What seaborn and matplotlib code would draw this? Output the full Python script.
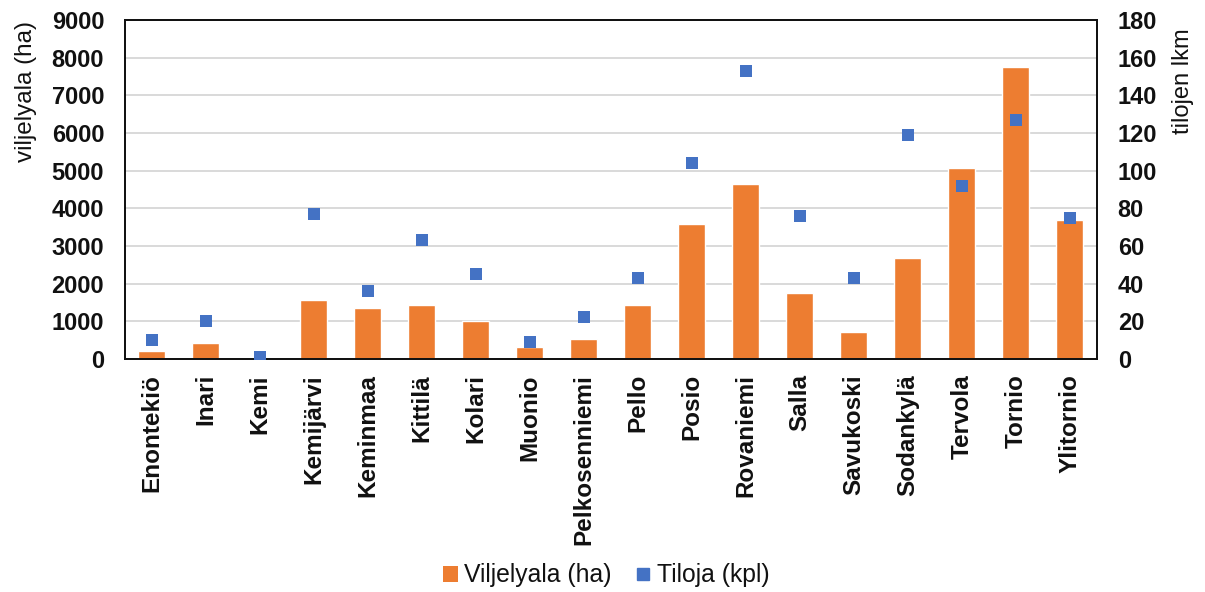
import matplotlib
matplotlib.use("Agg")
import matplotlib.pyplot as plt
from matplotlib.patches import Patch
from matplotlib.lines import Line2D
import seaborn as sns
import pandas as pd

# Municipalities of Lapland: cultivated area and number of farms
kunnat = ["Enontekiö", "Inari", "Kemi", "Kemijärvi", "Keminmaa", "Kittilä",
          "Kolari", "Muonio", "Pelkosenniemi", "Pello", "Posio", "Rovaniemi",
          "Salla", "Savukoski", "Sodankylä", "Tervola", "Tornio", "Ylitornio"]
viljelyala_ha = [210, 420, 0, 1570, 1360, 1440, 1000, 320, 520, 1420,
                 3580, 4650, 1750, 720, 2690, 5070, 7750, 3700]
tiloja_kpl = [10, 20, 1, 77, 36, 63, 45, 9, 22, 43,
              104, 153, 76, 43, 119, 92, 127, 75]

y_left_ticks = [0, 1000, 2000, 3000, 4000, 5000, 6000, 7000, 8000, 9000]
y_right_ticks = [0, 20, 40, 60, 80, 100, 120, 140, 160, 180]

df = pd.DataFrame({"kunta": kunnat, "ala": viljelyala_ha, "tilat": tiloja_kpl})

ORANGE = "#ED7D31"
BLUE = "#4472C4"
TEXT = "#111111"

sns.set_theme(style="white")
plt.rcParams["font.family"] = ["Liberation Sans", "DejaVu Sans"]

fig = plt.figure(figsize=(12.05, 5.92), dpi=100)
ax = fig.add_axes([0.1037, 0.394, 0.8066, 0.572])

sns.barplot(data=df, x="kunta", y="ala", color=ORANGE, width=0.5,
            saturation=1, ax=ax, zorder=2)
ax.set_ylim(0, 9000)
ax.set_yticks(y_left_ticks)
ax.yaxis.grid(True, color="#D9D9D9", linewidth=1.4, zorder=0)
ax.set_axisbelow(True)
ax.set_xlabel("")
ax.set_ylabel("viljelyala (ha)", fontsize=17.5, color=TEXT)
ax.yaxis.set_label_coords(-0.091, 0.79)

ax2 = ax.twinx()
sns.stripplot(data=df, x="kunta", y="tilat", jitter=False, marker="s",
              color=BLUE, size=9, linewidth=0, ax=ax2, zorder=3)
ax2.set_ylim(0, 180)
ax2.set_yticks(y_right_ticks)
ax2.set_xlabel("")
ax2.set_ylabel("tilojen lkm", fontsize=17, color=TEXT)
ax2.yaxis.set_label_coords(1.077, 0.82)
ax.set_xlim(-0.5, len(kunnat) - 0.5)

for a in (ax, ax2):
    a.tick_params(axis="y", length=0, pad=15, labelsize=17, labelcolor=TEXT)
    for lab in a.get_yticklabels():
        lab.set_fontweight("bold")
    for s in a.spines.values():
        s.set_color("#111111")
        s.set_linewidth(1.3)
        s.set_visible(True)

ax.tick_params(axis="x", length=0, pad=11, labelsize=17.5, labelcolor=TEXT)
ax.set_xticks(range(len(kunnat)))
ax.set_xticklabels(kunnat, rotation=90, fontweight="bold", fontsize=17.5)

handles = [Patch(facecolor=ORANGE, edgecolor="none"),
           Line2D([], [], marker="s", linestyle="none", color=BLUE, markersize=9)]
fig.legend(handles, ["Viljelyala (ha)", "Tiloja (kpl)"], loc="center",
           bbox_to_anchor=(0.503, 0.028), ncol=2, frameon=False, fontsize=17.8,
           handlelength=0.6, handleheight=0.6, handletextpad=0.25,
           columnspacing=1.0, labelcolor=TEXT)

fig.savefig("out.png", dpi=100, facecolor="white")
